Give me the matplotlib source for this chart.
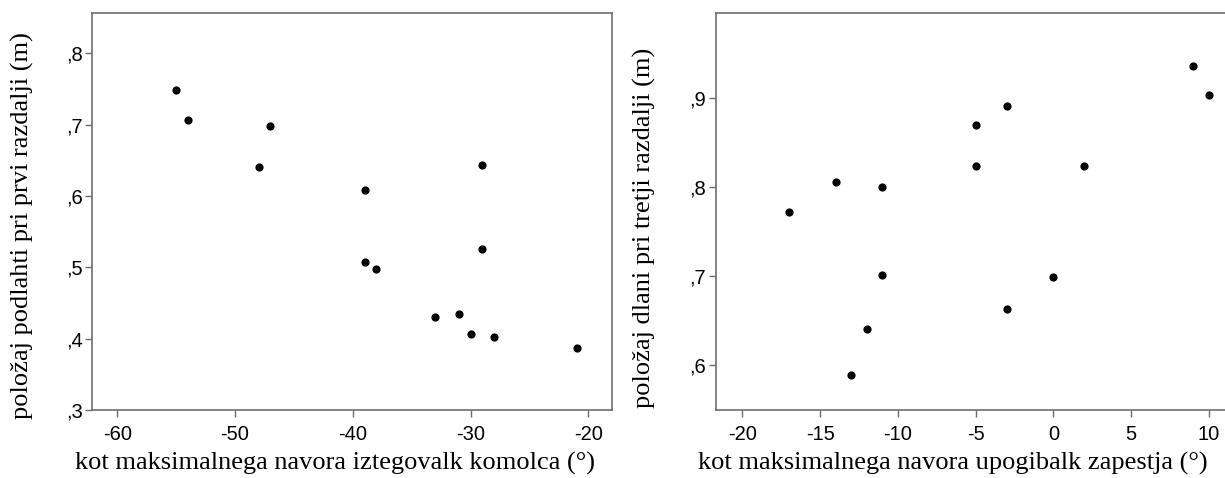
import matplotlib
matplotlib.use('Agg')
import matplotlib.pyplot as plt
from matplotlib.ticker import FuncFormatter

# left panel: elbow extensors vs forearm position at first distance
elbow_angle = [-55, -54, -47, -48, -39, -29, -29, -39, -38, -33, -31, -30, -28, -21]
forearm_pos = [0.749, 0.707, 0.698, 0.640, 0.608, 0.643, 0.525, 0.507, 0.497,
               0.431, 0.434, 0.407, 0.402, 0.387]

# right panel: wrist flexors vs palm position at third distance
wrist_angle = [-17, -14, -11, -11, -12, -13, -5, -5, -3, -3, 0, 2, 9, 10]
palm_pos = [0.772, 0.805, 0.800, 0.701, 0.640, 0.589, 0.869, 0.824, 0.891,
            0.663, 0.699, 0.823, 0.936, 0.903]

left_xticks = [-60, -50, -40, -30, -20]
left_yticks = [0.3, 0.4, 0.5, 0.6, 0.7, 0.8]
right_xticks = [-20, -15, -10, -5, 0, 5, 10]
right_yticks = [0.6, 0.7, 0.8, 0.9]

SERIF = 'Liberation Serif'
SANS = 'Liberation Sans'
SPINE = '#6e6e6e'
LABEL_SIZE = 19
TICK_SIZE = 14.5

plt.rcParams['axes.unicode_minus'] = False


def comma_fmt(v, pos):
    # SPSS style: ,8 instead of 0.8
    return ('%.1f' % v).lstrip('0').replace('.', ',')


def style_axes(ax):
    for s in ax.spines.values():
        s.set_color(SPINE)
        s.set_linewidth(1.2)
    ax.tick_params(direction='out', length=5, width=1, color=SPINE,
                   labelsize=TICK_SIZE)
    ax.tick_params(axis='x', pad=6)
    ax.tick_params(axis='y', pad=2)
    for lab in ax.get_xticklabels() + ax.get_yticklabels():
        lab.set_fontfamily(SANS)
    ax.yaxis.set_major_formatter(FuncFormatter(comma_fmt))


def main():
    fig = plt.figure(figsize=(12.25, 4.78), dpi=100)

    ax1 = fig.add_axes([0.0755, 0.1423, 0.424, 0.830])
    ax1.scatter(elbow_angle, forearm_pos, s=24, color='black', zorder=3)
    ax1.set_xlim(-62.1, -18.0)
    ax1.set_ylim(0.3, 0.856)
    ax1.set_xticks(left_xticks)
    ax1.set_yticks(left_yticks)
    style_axes(ax1)
    ax1.set_xlabel('kot maksimalnega navora iztegovalk komolca (°)',
                   fontfamily=SERIF, fontsize=LABEL_SIZE)
    ax1.set_ylabel('položaj podlahti pri prvi razdalji (m)',
                   fontfamily=SERIF, fontsize=LABEL_SIZE)
    ax1.xaxis.set_label_coords(0.467, -0.106)
    ax1.yaxis.set_label_coords(-0.113, 0.465)

    # right panel runs past the figure edge, as in the original
    ax2 = fig.add_axes([0.5844, 0.1423, 0.424, 0.830])
    ax2.scatter(wrist_angle, palm_pos, s=24, color='black', zorder=3)
    ax2.set_xlim(-21.7, 11.7)
    ax2.set_ylim(0.5495, 0.995)
    ax2.set_xticks(right_xticks)
    ax2.set_yticks(right_yticks)
    style_axes(ax2)
    ax2.set_xlabel('kot maksimalnega navora upogibalk zapestja (°)',
                   fontfamily=SERIF, fontsize=LABEL_SIZE)
    ax2.set_ylabel('položaj dlani pri tretji razdalji (m)',
                   fontfamily=SERIF, fontsize=LABEL_SIZE)
    ax2.xaxis.set_label_coords(0.456, -0.106)
    ax2.yaxis.set_label_coords(-0.116, 0.46)

    fig.savefig('out.png', dpi=100)


if __name__ == '__main__':
    main()
